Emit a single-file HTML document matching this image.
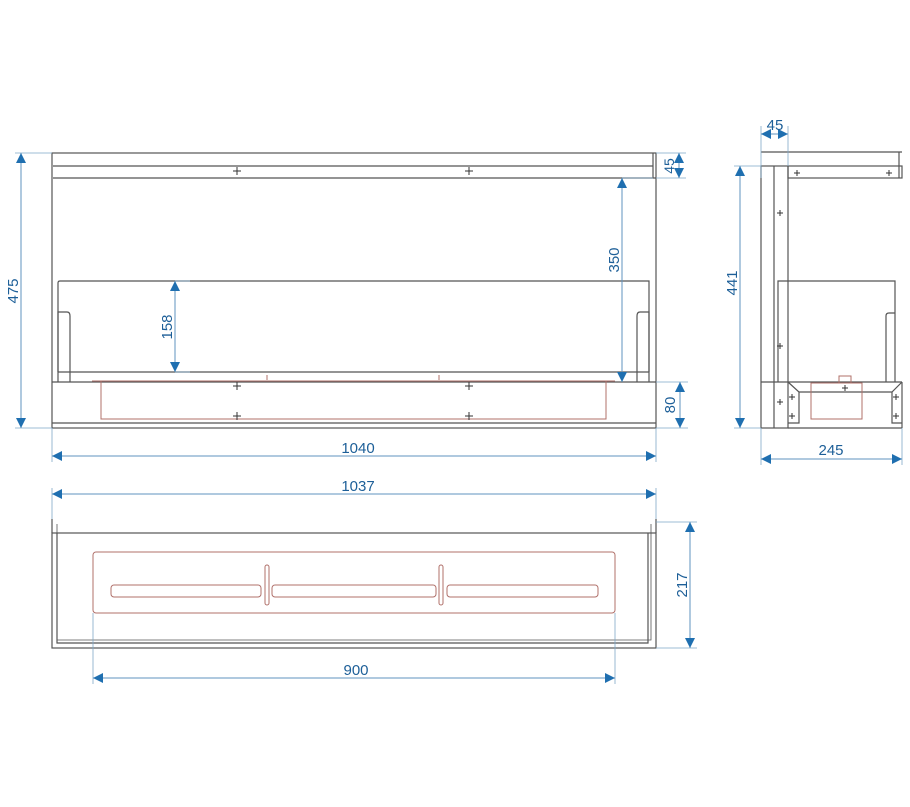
<!DOCTYPE html>
<html><head><meta charset="utf-8"><style>body{margin:0;background:#fff}svg{display:block}text{font-family:"Liberation Sans",sans-serif;font-size:15px;fill:#1d5f98;text-anchor:middle}</style></head><body>
<svg width="910" height="807" viewBox="0 0 910 807" xmlns="http://www.w3.org/2000/svg">
<defs><marker id="a" viewBox="0 0 10 10" refX="10" refY="5" markerWidth="16" markerHeight="10" orient="auto-start-reverse" markerUnits="userSpaceOnUse"><path d="M0,0L10,5L0,10z" fill="#1f6fb0"/></marker></defs>
<g fill="none" stroke="#555" stroke-width="1.2">
<rect x="52" y="153" width="604" height="275"/>
<line x1="53" y1="166" x2="653" y2="166"/><line x1="53" y1="178" x2="656" y2="178"/>
<line x1="653" y1="153" x2="653" y2="178"/>
<path d="M58,372V283q0-2 2-2H649V372"/><line x1="58" y1="372" x2="649" y2="372"/>
<path d="M58,382V312h9q3,0 3,4V382"/><path d="M649,382V312h-9q-3,0-3,4V382"/>
<line x1="52" y1="382" x2="656" y2="382"/><line x1="52" y1="423" x2="656" y2="423"/>
<line x1="761" y1="152" x2="902" y2="152"/>
<rect x="788" y="166" width="114" height="12"/><line x1="899" y1="152" x2="899" y2="178"/>
<rect x="761" y="166" width="27" height="262"/><line x1="774" y1="166" x2="774" y2="428"/>
<path d="M778,382V281H895V382"/><path d="M886,382V316q0-3 3-3h6"/>
<line x1="761" y1="382" x2="902" y2="382"/><line x1="788" y1="428" x2="902" y2="428"/>
<line x1="902" y1="382" x2="902" y2="428"/>
<path d="M788,382L799,392V423H788"/><path d="M799,392H892L902,382"/><path d="M892,392V423H902"/>
<rect x="52" y="533" width="604" height="115"/>
<line x1="52" y1="519" x2="52" y2="533"/><line x1="656" y1="519" x2="656" y2="533"/>
<path d="M57,533V643H648V533"/><path d="M57,524V640H651V524" stroke-width="0.8"/>
</g>
<g fill="none" stroke="#b0706a" stroke-width="1">
<path d="M92,381H615"/><path d="M101,381V419H606V381"/>
<line x1="267" y1="375" x2="267" y2="380"/><line x1="439" y1="375" x2="439" y2="380"/>
<rect x="811" y="383" width="51" height="36"/><rect x="839" y="376" width="12" height="7"/>
<rect x="93" y="552" width="522" height="61" rx="3"/>
<rect x="111" y="585" width="150" height="12" rx="3"/><rect x="272" y="585" width="164" height="12" rx="3"/><rect x="447" y="585" width="151" height="12" rx="3"/>
<rect x="265" y="565" width="4" height="40" rx="2"/><rect x="439" y="565" width="4" height="40" rx="2"/>
</g>
<g stroke="#333" stroke-width="1">
<path d="M233,171h8M237,167v8M465,171h8M469,167v8M233,386h8M237,382v8M465,386h8M469,382v8M233,416h8M237,412v8M465,416h8M469,412v8"/>
<path d="M794,173h6M797,170v6M886,173h6M889,170v6M777,213h6M780,210v6M777,346h6M780,343v6M777,402h6M780,399v6M842,388h6M845,385v6M789,397h6M792,394v6M789,416h6M792,413v6M893,397h6M896,394v6M893,416h6M896,413v6"/>
</g>
<g stroke="#7fa8c8" stroke-width="0.8" fill="none">
<path d="M15,153H52M15,428H52M52,428V462M656,428V462M656,153H686M656,178H686M656,382H688M656,428H688M622,178H653M175,281H190M175,372H190"/>
<path d="M761,126V178M788,126V166M734,166H761M734,428H761M761,428V465M902,428V465"/>
<path d="M52,488V519M656,488V519M656,522H697M656,648H697M93,613V684M615,613V684"/>
</g>
<g stroke="#5f93bf" stroke-width="1" fill="none" marker-start="url(#a)" marker-end="url(#a)">
<line x1="21" y1="153" x2="21" y2="428"/><line x1="175" y1="281" x2="175" y2="372"/><line x1="622" y1="178" x2="622" y2="382"/>
<line x1="679" y1="153" x2="679" y2="178"/><line x1="680" y1="382" x2="680" y2="428"/><line x1="52" y1="456" x2="656" y2="456"/>
<line x1="740" y1="166" x2="740" y2="428"/><line x1="761" y1="134" x2="788" y2="134"/><line x1="761" y1="459" x2="902" y2="459"/>
<line x1="52" y1="494" x2="656" y2="494"/><line x1="690" y1="522" x2="690" y2="648"/><line x1="93" y1="678" x2="615" y2="678"/>
</g>
<text transform="translate(18,291) rotate(-90)">475</text>
<text transform="translate(172,327) rotate(-90)">158</text>
<text transform="translate(619,260) rotate(-90)">350</text>
<text transform="translate(676,166) rotate(-90)" style="font-size:14px" x="0" dy="-2">45</text>
<text transform="translate(675,405) rotate(-90)">80</text>
<text x="358" y="453">1040</text>
<text transform="translate(737,283) rotate(-90)">441</text>
<text x="775" y="130">45</text>
<text x="831" y="455">245</text>
<text x="358" y="491">1037</text>
<text transform="translate(687,585) rotate(-90)">217</text>
<text x="356" y="675">900</text>
</svg>
</body></html>
